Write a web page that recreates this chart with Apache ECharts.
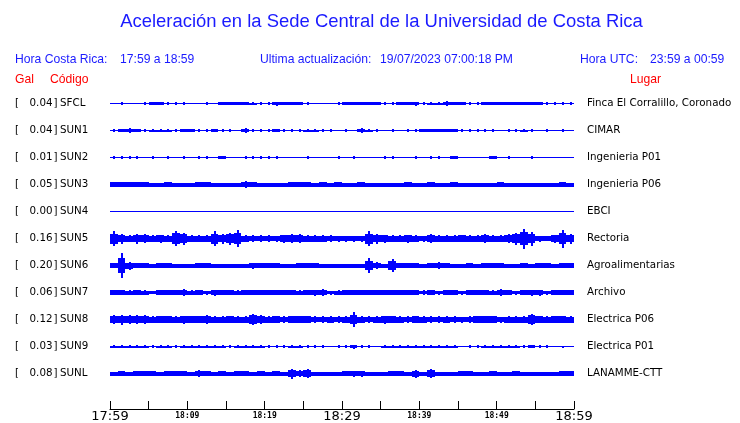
<!DOCTYPE html>
<html><head><meta charset="utf-8">
<script src="https://cdn.jsdelivr.net/npm/echarts@6/dist/echarts.min.js"></script>
<style>html,body{margin:0;padding:0;background:#fff}#c{width:740px;height:423px}</style>
</head><body><div id="c"></div>
<script>
// ---- text ----
const titleText = 'Aceleración en la Sede Central de la Universidad de Costa Rica';
const infoLocalLabel = 'Hora Costa Rica:';
const infoLocalRange = '17:59 a 18:59';
const infoUpdateLabel = 'Ultima actualización:';
const infoUpdateValue = '19/07/2023 07:00:18 PM';
const infoUtcLabel = 'Hora UTC:';
const infoUtcRange = '23:59 a 00:59';
const headerGal = 'Gal', headerCode = 'Código', headerPlace = 'Lugar';

// ---- categories ----
const stations = ['SFCL','SUN1','SUN2','SUN3','SUN4','SUN5','SUN6','SUN7','SUN8','SUN9','SUNL'];
const galValues = ['0.04','0.04','0.01','0.05','0.00','0.16','0.20','0.06','0.12','0.03','0.08'];
const places = ['Finca El Corralillo, Coronado','CIMAR','Ingenieria P01','Ingenieria P06','EBCI','Rectoria','Agroalimentarias','Archivo','Electrica P06','Electrica P01','LANAMME-CTT'];
const tickLabels = ['17:59','18:09','18:19','18:29','18:39','18:49','18:59'];

// ---- trace envelopes: noise floor and per-minute peak half-amplitude (1/27 of a row) ----
const floorAmp = [0.5,0.5,0.5,2.0,0.5,2.5,2.0,1.8,2.7,0.7,2.0];
const ampSFCL = [0.5,1.2,0.5,0.5,1.2, 1.6,1.6,1.3,1.3,1.3, 0.5,0.5,1.2,0.5,1.6, 1.6,1.6,1.6,1.5,1.4, 1.3,2.0,1.6,1.6,1.6, 1.3,0.5,0.5,0.5,1.2, 1.6,1.6,1.6,1.6,1.6, 1.2,1.2,1.6,1.6,2.0, 1.3,1.5,1.5,2.3,1.6, 1.6,1.2,1.2,1.6,1.6, 1.6,1.6,1.6,1.6,1.6, 1.6,1.2,1.4,1.4,1.4];
const ampSUN1 = [1.4,1.6,2.5,1.6,1.4, 1.5,1.5,1.5,1.2,1.6, 1.6,1.4,1.4,1.8,1.3, 1.3,0.5,2.5,1.2,1.2, 1.3,1.6,1.2,1.2,1.3, 1.5,1.5,1.3,1.4,0.5, 1.2,0.5,2.3,1.5,1.2, 0.5,1.2,0.5,1.2,1.3, 1.6,1.6,1.6,1.6,1.8, 1.3,1.3,1.3,1.4,1.3, 0.5,1.4,1.3,1.5,1.2, 0.5,1.2,0.5,1.2,0.5];
const ampSUN2 = [1.2,1.2,1.1,1.2,0.5, 1.1,0.5,1.2,0.5,1.1, 0.5,1.3,1.3,0.5,1.6, 0.5,0.5,1.2,1.3,1.2, 1.2,1.1,0.5,0.5,0.5, 1.1,0.5,0.5,0.5,1.1, 0.5,1.3,0.5,0.5,0.5, 1.1,1.1,0.5,0.5,1.1, 0.5,1.2,1.2,0.5,1.6, 0.5,0.5,0.5,0.5,1.6, 0.5,1.3,0.5,0.5,1.1, 0.5,0.5,0.5,0.5,0.5];
const ampSUN3 = [2.5,2.3,2.8,2.5,2.6, 1.7,1.7,2.5,1.7,1.7, 1.7,2.5,2.5,1.7,1.7, 1.7,1.7,3.2,2.5,1.7, 1.7,1.7,1.7,2.8,2.6, 2.3,1.7,2.3,1.7,2.4, 1.7,1.7,2.2,1.7,1.7, 1.7,1.7,1.7,2.5,1.7, 1.7,2.2,1.7,1.7,2.6, 1.7,1.7,1.7,1.7,1.7, 2.2,1.7,1.7,1.7,1.7, 1.7,1.7,1.7,2.4,1.7];
const ampSUN4 = [0.5,0.5,0.5,0.5,0.5, 0.5,0.5,0.5,0.5,0.5, 0.5,0.5,0.5,0.5,0.5, 0.5,0.5,0.5,0.5,0.5, 0.5,0.5,0.5,0.5,0.5, 0.5,0.5,0.5,0.5,0.5, 0.5,0.5,0.5,0.5,0.5, 0.5,0.5,0.5,0.5,0.5, 0.5,0.5,0.5,0.5,0.5, 0.5,0.5,0.5,0.5,0.5, 0.5,0.5,0.5,0.5,0.5, 0.5,0.5,0.5,0.5,0.5];
const ampSUN5 = [7.5,5,3.5,5,4.5, 3.5,4,3.5,7.8,6, 3.5,3.5,3.5,7.5,5, 6,8.5,3.5,3.2,3.2, 3.2,3,4,4.5,4.5, 3.5,3.5,3.5,3.2,3, 3,3,3,7.5,5, 4,3.5,3.5,4,3.5, 3,4.2,3.5,3.5,3.5, 3.8,3.5,3.5,4.5,3.5, 3.5,4.5,6,10,7, 3,2.8,4,9,5];
const ampSUN6 = [2.8,12.3,4,2.5,2.5, 1.9,2.8,2.8,1.7,1.7, 1.7,2.3,2.3,1.7,1.7, 1.9,1.7,1.7,3,2.6, 2.3,2.3,1.7,1.7,2.1, 2.1,2.1,1.7,1.7,1.7, 1.7,1.7,1.7,7.8,3.7, 1.7,6.7,2.3,2.1,2.3, 1.7,2.2,3.2,2.3,1.7, 1.7,2.3,1.7,2.3,2.3, 2.1,1.7,1.7,2.5,1.7, 2.2,2.2,2,2.4,2.4];
const ampSUN7 = [2.5,2.3,2.2,2.3,2.2, 1.8,2.5,2.3,2.5,3.5, 2.2,2.8,2,3,2.5, 2.3,2.2,2.3,2.5,2.4, 2.4,2.5,2.5,2.5,2.2, 2.6,3,3.5,2,2.2, 2.5,2.5,2.7,2.8,2.8, 2.5,2.5,2.5,2.3,2.5, 2.1,2.4,2,2.5,2.5, 2,2.3,2.3,2.3,2.2, 3.2,2.8,2,2.7,3, 3,2,2.3,2.6,2.4];
const ampSUN8 = [4.5,5,4.5,4.5,4.2, 3.3,3.8,3.8,3.3,4, 3.5,3.7,4.5,3.3,3.3, 3.5,3.3,3.3,5.8,4.2, 3.3,3.5,3.2,3.4,3.5, 3.5,3.2,3.2,3.3,3.2, 3.3,7.2,3.3,3.2,3.3, 4,3.5,3.3,3.2,3.4, 3.3,3.2,3.2,3.3,3.2, 3,3.2,3.4,3.8,3.8, 3,3.3,3.3,3.3,5.8, 3.8,3.3,3.5,3.5,3.3];
const ampSUN9 = [1.3,1.3,1.3,1.3,1.3, 1.2,1.3,1.3,1.2,1.3, 1.3,1.3,1.3,1.3,1.3, 1.1,1.3,1.3,1.3,1.3, 1.2,1.2,1.1,1.3,1.3, 1.2,1.2,1.1,0.7,1.1, 1.2,2,1.2,1.2,0.8, 1.3,1.3,1.3,1.3,1.3, 1.3,1.3,1.3,1.3,1.3, 0.9,1.1,1.2,1.3,1.3, 1.3,1.3,1.3,1.2,1.8, 1.2,1.2,0.8,1,0.8];
const ampSUNL = [1.8,2.3,1.8,2.5,2.3, 2.3,1.8,2.5,2.2,2.5, 1.8,3.8,2.3,1.8,2.8, 1.8,2.4,2.5,1.8,2.5, 1.8,2.5,2,5,3.5, 4.5,1.8,1.8,1.8,1.8, 2.3,3,3,1.8,1.8, 1.8,2.5,2.5,1.8,4, 1.8,4.5,1.8,1.8,1.8, 2.8,2.6,1.8,1.8,2.8, 1.8,1.8,2.5,1.8,1.8, 1.8,1.8,1.8,2.3,2.5];
const peakAmp = [ampSFCL,ampSUN1,ampSUN2,ampSUN3,ampSUN4,ampSUN5,ampSUN6,ampSUN7,ampSUN8,ampSUN9,ampSUNL];

// ---- layout ----
const AMP_PER_ROW = 27;
const GRID_TOP = 90, AXIS_Y = 409, ROW_PX = 27;
const BLUE = '#0000ff', TEXT_BLUE = '#1a1aff', RED = '#ff0000';
const chart = echarts.init(document.getElementById('c'), null, {renderer: 'canvas'});

const floorData = stations.map((s, i) => [0, i, floorAmp[i]]);
const peakData = [];
peakAmp.forEach((arr, i) => arr.forEach((a, m) => { if (a > floorAmp[i]) peakData.push([m, i, a, floorAmp[i]]); }));

function bandRect(api, x0, x1, idx, a, minW) {
  const c = api.coord([x0, idx]);
  const cEnd = api.coord([x1, idx]);
  const top = api.coord([x0, idx - a / AMP_PER_ROW])[1];
  const bot = api.coord([x0, idx + a / AMP_PER_ROW])[1];
  let y0 = Math.round(top), y1 = Math.round(bot);
  if (y1 <= y0) y1 = y0 + 1;
  let xa = Math.round(c[0]), xb = Math.round(cEnd[0]);
  if (xb - xa < minW) { xb = xa + minW; }
  return {type: 'rect', shape: {x: xa, y: y0, width: xb - xa, height: y1 - y0}, style: {fill: BLUE}};
}

const graphics = [];
function txt(x, y, text, font, fill, align) {
  graphics.push({type: 'text', silent: true, style: {x: x, y: y, text: text, font: font, fill: fill, textAlign: align || 'left', textVerticalAlign: 'middle'}});
}
txt(381.5, 22, titleText, '18.45px "Liberation Sans"', TEXT_BLUE, 'center');
const infoFont = '12.15px "Liberation Sans"';
txt(15, 60, infoLocalLabel, infoFont, TEXT_BLUE);
txt(120, 60, infoLocalRange, infoFont, TEXT_BLUE);
txt(260, 60, infoUpdateLabel, infoFont, TEXT_BLUE);
txt(380, 60, infoUpdateValue, infoFont, TEXT_BLUE);
txt(580, 60, infoUtcLabel, infoFont, TEXT_BLUE);
txt(650, 60, infoUtcRange, infoFont, TEXT_BLUE);
txt(15, 80, headerGal, infoFont, RED);
txt(50, 80, headerCode, infoFont, RED);
txt(630, 80, headerPlace, infoFont, RED);
const rowFont = '10.3px "DejaVu Sans"';
stations.forEach((s, i) => {
  const y = GRID_TOP + (i + 0.5) * ROW_PX;
  txt(15, y, '[', rowFont, '#000');
  txt(52.5, y, galValues[i], rowFont, '#000', 'right');
  txt(53.5, y, ']', rowFont, '#000');
  txt(60, y, s, rowFont, '#000');
  txt(587, y, places[i], rowFont, '#000');
});

const option = {
  animation: false,
  backgroundColor: '#fff',
  grid: {left: 110, right: 166, top: GRID_TOP, bottom: 423 - AXIS_Y},
  xAxis: {
    type: 'value', min: 0, max: 60, interval: 5,
    axisLine: {show: true, onZero: false, lineStyle: {color: '#000', width: 1}},
    axisTick: {show: true, inside: true, length: 8, lineStyle: {color: '#000', width: 1}},
    splitLine: {show: false},
    axisLabel: {
      show: true, margin: 1, showMinLabel: true, showMaxLabel: true,
      formatter: function (v) {
        if (v % 10 !== 0) return '';
        const t = tickLabels[v / 10];
        return v % 30 === 0 ? '{big|' + t + '}' : '{small|' + t + '}';
      },
      rich: {
        big: {fontFamily: 'DejaVu Sans', fontSize: 13, color: '#000'},
        small: {fontFamily: 'DejaVu Sans Mono', fontSize: 8, fontWeight: 'bold', color: '#000', padding: [2, 0, 0, 0]}
      }
    }
  },
  yAxis: {type: 'value', inverse: true, min: -0.5, max: -0.5 + (AXIS_Y - GRID_TOP) / ROW_PX, show: false},
  series: [
    {
      type: 'custom', data: floorData, encode: {x: 0, y: 1}, silent: true,
      renderItem: function (params, api) {
        return bandRect(api, 0, 60, api.value(1), api.value(2), 1);
      }
    },
    {
      type: 'custom', data: peakData, encode: {x: 0, y: 1}, silent: true,
      renderItem: function (params, api) {
        const m = api.value(0), idx = api.value(1), a = api.value(2), f = api.value(3);
        const mid = f + 0.5 * (a - f);
        return {type: 'group', children: [
          bandRect(api, m, m + 1, idx, mid, 1),
          bandRect(api, m + 0.42, m + 0.58, idx, a, 2)
        ]};
      }
    }
  ],
  graphic: graphics
};
chart.setOption(option);
</script>
</body></html>
